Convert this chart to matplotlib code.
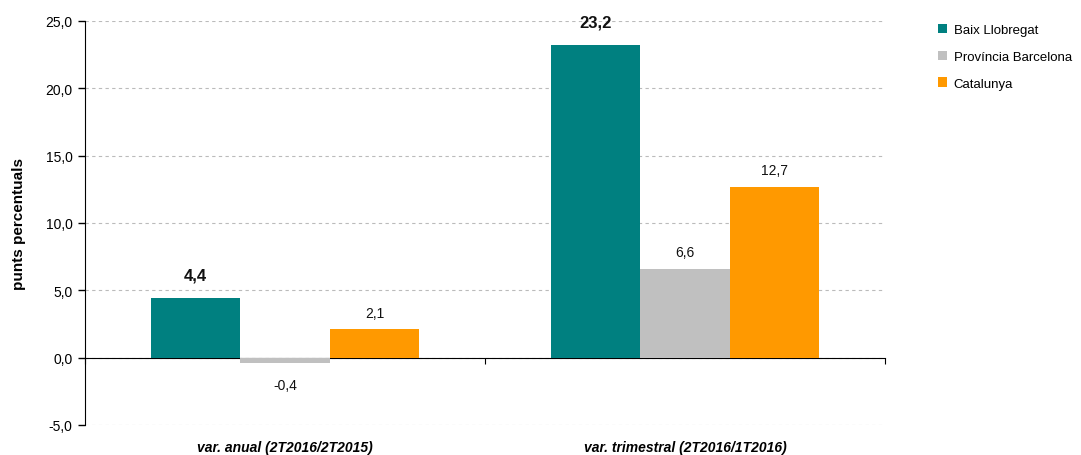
import matplotlib.pyplot as plt
import numpy as np
from matplotlib import font_manager

# chart data
categories = ["var. anual (2T2016/2T2015)", "var. trimestral (2T2016/1T2016)"]
series_names = ["Baix Llobregat", "Província Barcelona", "Catalunya"]
baix_llobregat = [4.4, 23.2]
provincia_bcn = [-0.4, 6.6]
catalunya = [2.1, 12.7]
series_colors = ["#008080", "#C0C0C0", "#FF9900"]
yticks = [-5, 0, 5, 10, 15, 20, 25]

names = {f.name for f in font_manager.fontManager.ttflist}
font = "Liberation Sans Narrow" if "Liberation Sans Narrow" in names else "Liberation Sans"
plt.rcParams["font.family"] = [font, "DejaVu Sans"]


def fmt(v):
    return f"{v:.1f}".replace(".", ",")


fig = plt.figure(figsize=(10.81, 4.56), dpi=100)
ax = fig.add_axes([0.0786, 0.0658, 0.7401, 0.886])

x = np.arange(len(categories))
width = 0.2235
all_series = [baix_llobregat, provincia_bcn, catalunya]
for i, (vals, name, col) in enumerate(zip(all_series, series_names, series_colors)):
    pos = x + (i - 1) * width
    ax.bar(pos, vals, width=width, color=col, label=name, zorder=3)
    for px, v in zip(pos, vals):
        bold = i == 0
        off = 17 if bold else 12
        if v < 0:
            off = -16
        ax.annotate(fmt(v), (px, v), xytext=(0, off), textcoords="offset points",
                    ha="center", va="center", fontsize=12 if bold else 10,
                    fontweight="bold" if bold else "normal", color="#111111")

ax.set_xlim(-0.5, 1.5)
ax.set_ylim(-5, 25)
ax.set_yticks(yticks)
ax.set_yticklabels([fmt(t) for t in yticks], fontsize=10)
ax.yaxis.grid(True, linestyle=(0, (3, 3)), color="#bbbbbb", linewidth=0.8, zorder=0)
ax.tick_params(axis="y", direction="out", length=5, width=1, pad=4)

# category axis at zero with divider ticks
ax.spines["bottom"].set_position(("data", 0))
ax.spines["top"].set_visible(False)
ax.spines["right"].set_visible(False)
ax.set_xticks([-0.5, 0.5, 1.5])
ax.set_xticklabels([])
ax.tick_params(axis="x", direction="out", length=4, width=0.8)
for xi, cat in zip(x, categories):
    ax.text(xi, -6.6, cat, ha="center", va="center", fontsize=10,
            fontweight="bold", fontstyle="italic")

ax.set_ylabel("punts percentuals", fontsize=11, fontweight="bold", labelpad=14)

ax.legend(loc="upper left", bbox_to_anchor=(1.066, 0.993), frameon=False, fontsize=9.5,
          borderaxespad=0, borderpad=0, handlelength=0.7, handleheight=0.7,
          handletextpad=0.5, labelspacing=1.1)

fig.savefig("out.png", dpi=100)
